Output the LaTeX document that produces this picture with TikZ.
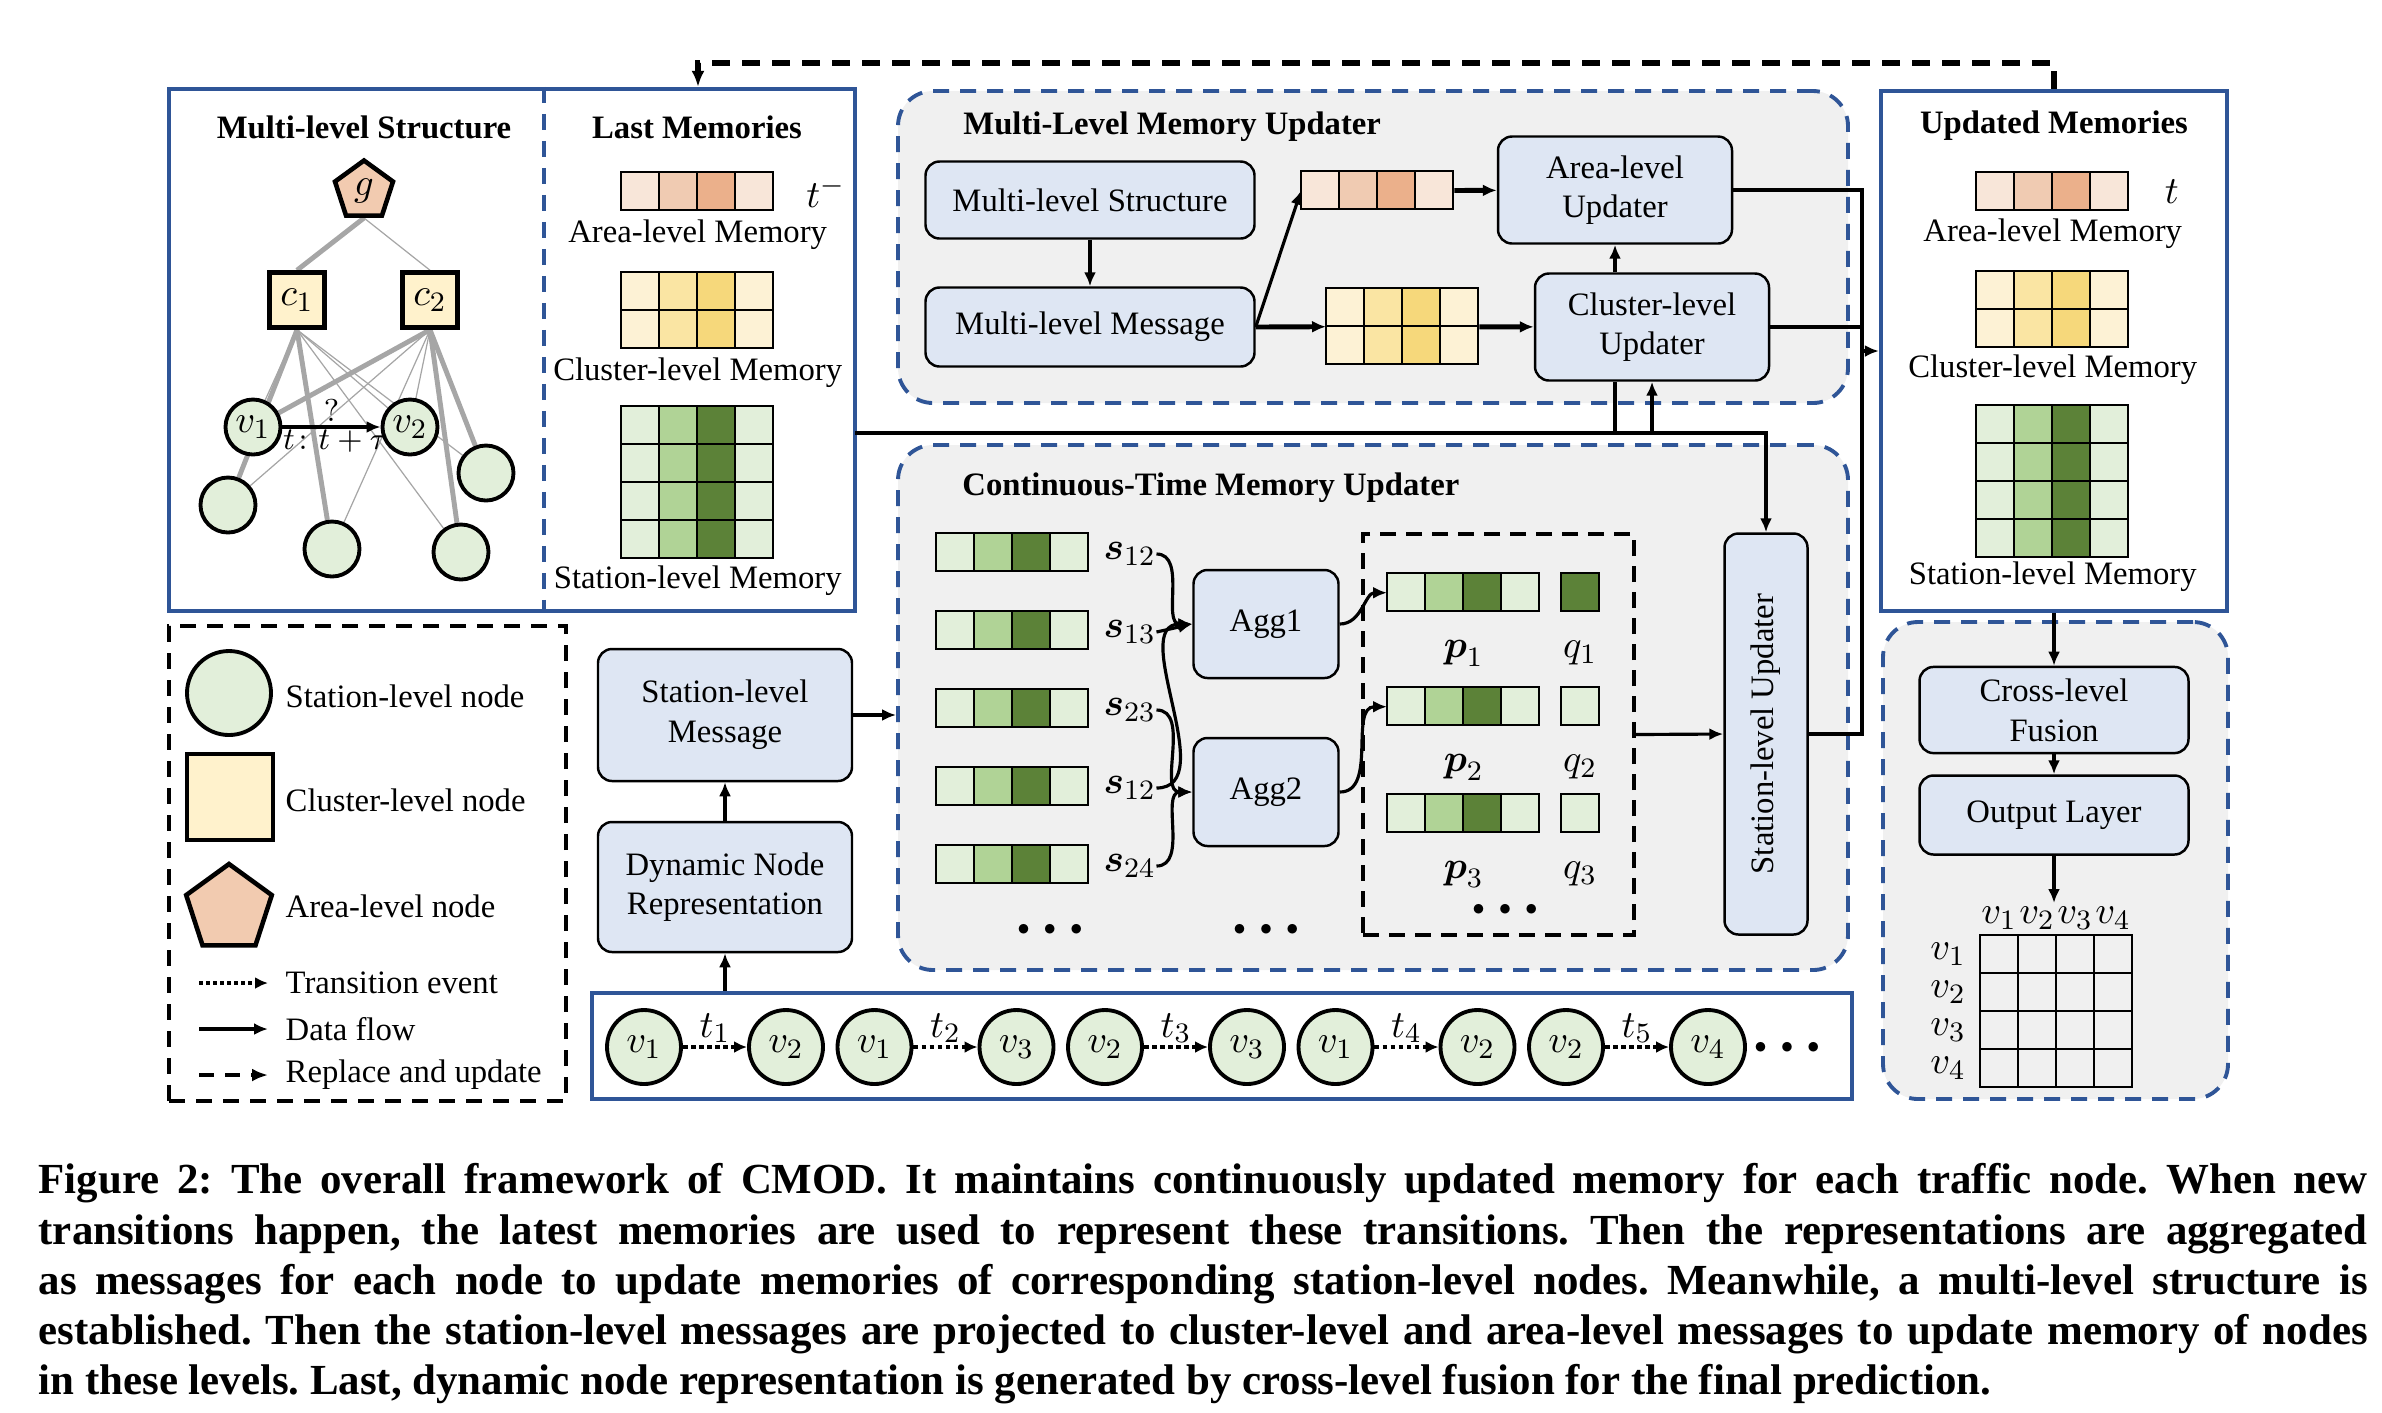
\documentclass[tikz,border=0pt]{standalone}
\usepackage{fontspec}
\setmainfont{Liberation Serif}
\usepackage{amsmath}
\usepackage{graphicx}
\usetikzlibrary{arrows.meta,shapes.geometric,backgrounds,calc}
\definecolor{areaa}{HTML}{F8E6D9}
\definecolor{areab}{HTML}{F0CBB2}
\definecolor{areac}{HTML}{EBB08B}
\definecolor{clusa}{HTML}{FDF2D5}
\definecolor{clusb}{HTML}{FAE5A3}
\definecolor{clusc}{HTML}{F6D87B}
\definecolor{stata}{HTML}{E2EFDA}
\definecolor{statb}{HTML}{B0D396}
\definecolor{statc}{HTML}{5C8238}
\definecolor{panelblue}{HTML}{2F5597}
\definecolor{boxblue}{HTML}{DEE6F3}
\definecolor{bggray}{HTML}{F0F0F0}
\definecolor{clusnode}{HTML}{FFF2CC}
\definecolor{areanode}{HTML}{F2CBB0}
\definecolor{edgegray}{HTML}{A6A6A6}
\newcommand{\dfont}{\fontsize{9.3}{11.3}\selectfont}
\newcommand{\mfont}{\fontsize{11}{13}\selectfont}
\newcommand{\bigdots}{$\bullet$\hspace{1.3mm}$\bullet$\hspace{1.3mm}$\bullet$}
\tikzset{
    block/.style = {draw, rectangle, rounded corners=1.4mm,
        fill=boxblue, line width=0.7pt, align=center},
    panel/.style = {draw=panelblue, line width=1.2pt, inner sep=0pt},
    updater/.style = {draw=panelblue, dash pattern=on 1.6mm off 1.1mm,
        line width=1.1pt, rounded corners=3.5mm, fill=bggray, inner sep=0pt},
    station/.style = {draw, circle, fill=stata, line width=1.1pt,
        inner sep=0pt, minimum size=5.5mm, font=\mfont},
    cluster/.style = {draw, rectangle, fill=clusnode, line width=1.3pt,
        inner sep=0pt, minimum size=5.5mm, font=\mfont},
    area/.style = {draw, regular polygon, regular polygon sides=5,
        fill=areanode, line width=1.3pt, inner sep=0pt, minimum size=6.1mm, font=\mfont},
    mathlbl/.style = {font=\mfont},
    cell/.style = {draw, line width=0.7pt},
    arrow/.style = {draw, -{Latex[length=1.4mm,width=1.2mm]}, line width=0.9pt},
    thickarrow/.style = {arrow, line width=1.4pt},
    trans/.style = {draw, densely dotted, line width=1.3pt, -{Latex[length=1.3mm,width=1.2mm]}},
    replace/.style = {draw, dash pattern=on 1.8mm off 1.2mm, line width=1.5pt,
        -{Latex[length=1.6mm,width=1.3mm]}},
    heading/.style = {font=\dfont\bfseries},
    heavyedge/.style = {draw=edgegray, line width=1.4pt},
    lightedge/.style = {draw=edgegray, line width=0.35pt},
    dotsnode/.style = {font=\fontsize{6.5}{6.5}\selectfont, inner sep=0pt}
}
% memory cells: x, y (top left), rows, palette, name
\newcommand{\memcells}[5]{%
    \foreach \mcol [count=\mc from 0] in {#4a,#4b,#4c,#4a} {
        \foreach \mr in {1,...,#3} {
            \draw[cell, fill=\mcol] ({#1+38*\mc},{#2+38*(\mr-1)}) rectangle ++(38,38);
        }
    }
    \node[inner sep=0pt, minimum width=15.2mm, minimum height=#3*3.8mm,
        anchor=north west] (#5) at ({#1},{#2}) {};
}
\begin{document}
\begin{tikzpicture}[x=0.1mm, y=-0.1mm, font=\dfont]
    \useasboundingbox (0,0) rectangle (2382,1412);
    % containers
    \node[updater, minimum width=95mm, minimum height=31.2mm] (mlmu) at (1373,247) {};
    \node[updater, minimum width=95mm, minimum height=52.5mm] (ctmu) at (1373,707.5) {};
    \node[updater, minimum width=34.5mm, minimum height=47.7mm] (outmu) at (2055.5,860.5) {};
    \node[panel, minimum width=68.6mm, minimum height=52.2mm] (lastpanel) at (512,350) {};
    \node[panel, minimum width=34.6mm, minimum height=52mm] (newpanel) at (2054,351) {};
    \node[panel, minimum width=126mm, minimum height=10.6mm] (seqbar) at (1222,1046) {};
    \coordinate (divx) at (544,0);
    \draw[panelblue, dash pattern=on 1.6mm off 1.1mm, line width=1.1pt]
        (divx |- lastpanel.north) -- (divx |- lastpanel.south);

    % multi-level structure
    \node[heading] (mstitle) at (364,127) {Multi-level Structure};
    \node[heading] (lmtitle) at (697,127) {Last Memories};
    \node[area] (g) at (364,191) {$g$};
    \node[cluster] (c1) at (297,300) {$c_1$};
    \node[cluster, right of=c1, node distance=13.3mm] (c2) {$c_2$};
    \node[station] (v1) at (253,427) {$v_1$};
    \node[station, right of=v1, node distance=15.7mm] (v2) {$v_2$};
    \node[station] (n3) at (228,505) {};
    \node[station] (n4) at (332,549) {};
    \node[station] (n5) at (461,552) {};
    \node[station] (n6) at (486,473) {};
    \begin{scope}[on background layer]
        \draw[heavyedge] (g.south) -- (c1.north);
        \draw[lightedge] (g.south) -- (c2.north);
        \foreach \dst in {n3,n4} \draw[heavyedge] (c1.south) -- (\dst);
        \foreach \dst in {v1,v2,n5,n6} \draw[lightedge] (c1.south) -- (\dst);
        \foreach \dst in {v1,n5,n6} \draw[heavyedge] (c2.south) -- (\dst);
        \foreach \dst in {v2,n3,n4} \draw[lightedge] (c2.south) -- (\dst);
    \end{scope}
    \draw[arrow] (v1) -- node[above, inner sep=1pt] {$?$}
        node[below, inner sep=0.5pt, xshift=0.4mm] {$t\colon t+\tau$} (v2);

    % last memories
    \memcells{621}{172}{1}{area}{lma}
    \memcells{621}{272}{2}{clus}{lmc}
    \memcells{621}{406}{4}{stat}{lms}
    \node[below of=lma, node distance=4.3mm] (lmal) {Area-level Memory};
    \node[below of=lmc, node distance=6.2mm] (lmcl) {Cluster-level Memory};
    \node[below of=lms, node distance=9.8mm] (lmsl) {Station-level Memory};
    \node[mathlbl, right of=lma, node distance=12.8mm] (tminus) {$t^{-}$};

    % updated memories
    \node[heading] (umtitle) at (2054,126) {Updated Memories};
    \memcells{1976}{172}{1}{area}{uma}
    \memcells{1976}{271}{2}{clus}{umc}
    \memcells{1976}{405}{4}{stat}{ums}
    \node[below of=uma, node distance=4.2mm] (umal) {Area-level Memory};
    \node[below of=umc, node distance=6.0mm] (umcl) {Cluster-level Memory};
    \node[below of=ums, node distance=9.5mm] (umsl) {Station-level Memory};
    \node[mathlbl, right of=uma, node distance=11.9mm] (tnow) {$t$};

    % multi-level memory updater
    \node[heading, anchor=west] (mlmutitle) at (951,127) {Multi-Level Memory Updater};
    \node[block, minimum width=32.9mm, minimum height=7.7mm] (mlstruct) at (1090,200) {Multi-level Structure};
    \node[block, minimum width=32.9mm, minimum height=7.9mm, below of=mlstruct, node distance=12.7mm] (mlmsg) {Multi-level Message};
    \memcells{1301}{171}{1}{area}{abar}
    \memcells{1326}{288}{2}{clus}{cbar}
    \node[block, minimum width=23.4mm, minimum height=10.7mm] (aupd) at (1615,190) {Area-level\\Updater};
    \node[block, minimum width=23.4mm, minimum height=10.7mm] (cupd) at (1652,327) {Cluster-level\\Updater};
    \draw[arrow] (mlstruct) -- (mlmsg);
    \draw[arrow] (mlmsg.east) -- (abar.west);
    \draw[thickarrow] (mlmsg.east) -- (cbar.west);
    \draw[thickarrow] (abar) -- (aupd);
    \draw[thickarrow] (cbar) -- (cupd);
    \draw[arrow] (aupd.south |- cupd.north) -- (aupd.south);

    % continuous-time memory updater
    \node[heading, anchor=west] (ctmutitle) at (950,488) {Continuous-Time Memory Updater};
    \foreach \k/\lab in {1/12,2/13,3/23,4/12,5/24} {
        \memcells{936}{533+78*(\k-1)}{1}{stat}{s\k}
        \node[mathlbl, anchor=west, inner sep=0pt] (ls\k) at (1103,{554+78*(\k-1)}) {$\boldsymbol{s}_{\lab}$};
    }
    \node[block, minimum width=14.5mm, minimum height=10.8mm] (agg1) at (1266,624) {Agg1};
    \node[block, minimum width=14.5mm, minimum height=10.8mm, below of=agg1, node distance=16.8mm] (agg2) {Agg2};
    \node[dotsnode] (sdots) at (1050,929) {\bigdots};
    \node[dotsnode] (adots) at (1266,929) {\bigdots};
    \draw[arrow] (ls1.east) to[out=0, in=180] (agg1.west);
    \draw[arrow] (ls2.east) -- (agg1.west);
    \draw[arrow] (ls3.east) to[out=0, in=180] (agg2.west);
    \draw[arrow] (ls4.east) to[out=0, in=180] (agg1.west);
    \draw[arrow] (ls5.east) to[out=0, in=180] (agg2.west);
    \node[draw, dash pattern=on 1.6mm off 1.0mm, line width=1.1pt,
        minimum width=27.1mm, minimum height=40.1mm] (pbox) at (1498.5,734.5) {};
    \foreach \k/\py/\qc in {1/573/statc,2/687/stata,3/794/stata} {
        \memcells{1387}{\py}{1}{stat}{p\k}
        \node[cell, fill=\qc, inner sep=0pt, minimum size=3.8mm] (q\k) at (1580,{\py+19}) {};
        \node[mathlbl, below of=p\k, node distance=6.1mm] (pl\k) {$\boldsymbol{p}_{\k}$};
        \node[mathlbl, below of=q\k, node distance=6.1mm] (ql\k) {$q_{\k}$};
    }
    \node[dotsnode] (pdots) at (1505,909) {\bigdots};
    \draw[arrow] (agg1.east) to[out=0, in=180] (p1.west);
    \draw[arrow] (agg2.east) to[out=0, in=180] (p2.west);
    \node[block, minimum width=8.3mm, minimum height=40.1mm] (supd) at (1766,734) {\rotatebox{90}{Station-level Updater}};
    \draw[arrow] (pbox.east) -- (supd.west);

    % memories into updaters
    \coordinate (memout) at (855,433);
    \draw[arrow] (memout) -| (supd.north);
    \draw[line width=0.9pt] (memout -| aupd.south) -- (aupd.south |- cupd.south);
    \draw[arrow] (memout -| cupd.south) -- (cupd.south);

    % updaters into updated memories
    \coordinate (merge) at (1862,351);
    \draw[line width=1.1pt] (aupd.east) -| (merge);
    \draw[line width=1.1pt] (cupd.east) -| (merge);
    \draw[line width=1.1pt] (supd.east) -| (merge);
    \draw[arrow] (merge) -- (newpanel.west);

    % replace and update
    \coordinate (toprail) at (698,63);
    \draw[replace] (newpanel.north) |- (toprail) -- (toprail |- lastpanel.north);

    % message path
    \node[block, minimum width=25.4mm, minimum height=13.2mm] (smsg) at (725,715) {Station-level\\Message};
    \node[block, minimum width=25.4mm, minimum height=13.0mm, below of=smsg, node distance=17.2mm] (dnr) {Dynamic Node\\Representation};
    \draw[arrow] (dnr) -- (smsg);
    \draw[arrow] (smsg.east) -- (smsg.east -| ctmu.west);
    \draw[arrow] (seqbar.north -| dnr) -- (dnr);

    % transition sequence
    \foreach \k/\a/\b/\t in {0/1/2/1,1/1/3/2,2/2/3/3,3/1/2/4,4/2/4/5} {
        \node[station, minimum size=7.4mm] (ea\k) at ({644+230.5*\k},1047) {$v_\a$};
        \node[station, minimum size=7.4mm, right of=ea\k, node distance=14.2mm] (eb\k) {$v_\b$};
        \draw[trans] (ea\k) -- node[mathlbl, above, inner sep=0.5pt] {$t_\t$} (eb\k);
    }
    \node[dotsnode] (seqdots) at (1787,1047) {\bigdots};

    % output
    \node[block, minimum width=26.9mm, minimum height=7.9mm] (fusion) at (2054,710) {Cross-level\\Fusion};
    \node[block, minimum width=26.9mm, minimum height=7.9mm, below of=fusion, node distance=10.5mm] (outlayer) {Output Layer};
    \draw[arrow] (newpanel.south) -- (fusion.north);
    \draw[arrow] (fusion) -- (outlayer);
    \coordinate (predtop) at (2054,903);
    \draw[arrow] (outlayer) -- (predtop);
    \foreach \r in {0,...,3}
        \foreach \c in {0,...,3}
            \draw[cell] ({1980+38*\c},{935+38*\r}) rectangle ++(38,38);
    \foreach \c in {1,...,4} {
        \node[mathlbl] (col\c) at ({1961+38*\c},918) {$v_\c$};
        \node[mathlbl] (row\c) at (1948,{916+38*\c}) {$v_\c$};
    }

    % legend
    \node[draw, dash pattern=on 1.6mm off 1.1mm, line width=1.2pt,
        minimum width=39.7mm, minimum height=47.5mm] (legend) at (367.5,863.5) {};
    \node[station, minimum size=8.4mm] (lgs) at (229,693) {};
    \node[cluster, minimum size=8.6mm] (lgc) at (230,797) {};
    \node[area, minimum size=9mm] (lga) at (229,909) {};
    \node[anchor=west, inner sep=0pt] (lgst) at (285,696) {Station-level node};
    \node[anchor=west, inner sep=0pt] (lgct) at (285,800) {Cluster-level node};
    \node[anchor=west, inner sep=0pt] (lgat) at (285,906) {Area-level node};
    \coordinate (lgt) at (199,983);
    \coordinate (lgd) at (199,1029);
    \coordinate (lgr) at (199,1075);
    \draw[trans, line width=1pt] (lgt) -- ++(69,0);
    \draw[arrow] (lgd) -- ++(69,0);
    \draw[replace, line width=1.2pt, dash pattern=on 1.5mm off 1.1mm] (lgr) -- ++(69,0);
    \node[anchor=west, inner sep=0pt] (lgtt) at (285,983) {Transition event};
    \node[anchor=west, inner sep=0pt] (lgdt) at (285,1029) {Data flow};
    \node[anchor=west, inner sep=0pt] (lgrt) at (285,1075) {Replace and update};

    % caption
    \node[anchor=north west, inner sep=0pt, text width=232.9mm, align=justify,
        font=\fontsize{12.2}{14.3}\selectfont\bfseries] (caption) at (38,1163) {%
        \frenchspacing\hyphenpenalty=10000
        Figure 2: The overall framework of CMOD. It maintains continuously updated memory for each traffic node. When new\linebreak
        transitions happen, the latest memories are used to represent these transitions. Then the representations are aggregated\linebreak
        as messages for each node to update memories of corresponding station-level nodes. Meanwhile, a multi-level structure is\linebreak
        established. Then the station-level messages are projected to cluster-level and area-level messages to update memory of nodes\linebreak
        in these levels. Last, dynamic node representation is generated by cross-level fusion for the final prediction.};
\end{tikzpicture}
\end{document}
